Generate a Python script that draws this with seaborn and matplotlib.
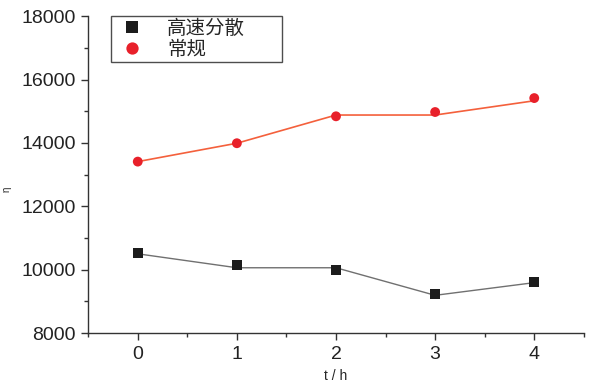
import numpy as np
import pandas as pd
import seaborn as sns
import matplotlib as mpl
from matplotlib import pyplot as plt

# data (markers and the connecting line differ slightly)
hours = [0, 1, 2, 3, 4]
fast_points = [10530, 10150, 9990, 9220, 9600]
fast_line = [10500, 10060, 10060, 9190, 9590]
normal_points = [13410, 13990, 14840, 14975, 15415]
normal_line = [13410, 13990, 14880, 14880, 15330]
series_names = ["高速分散", "常规"]

sns.set_theme(style="ticks")
plt.rcParams["font.family"] = ["Liberation Sans", "Noto Sans CJK SC", "DejaVu Sans"]

points = pd.DataFrame({
    "t": hours * 2,
    "eta": fast_points + normal_points,
    "series": [series_names[0]] * 5 + [series_names[1]] * 5,
})

fig = plt.figure(figsize=(6, 3.85), dpi=100)
ax = fig.add_axes([0.147, 0.135, 0.826, 0.823])

sns.lineplot(x=hours, y=fast_line, color="#707070", lw=1.0, ax=ax, legend=False)
sns.lineplot(x=hours, y=normal_line, color="#f4603c", lw=1.2, ax=ax, legend=False)
sns.scatterplot(
    data=points, x="t", y="eta", hue="series", style="series",
    palette={series_names[0]: "#1c1c1c", series_names[1]: "#e8202a"},
    markers={series_names[0]: "s", series_names[1]: "o"},
    s=50, linewidth=0, ax=ax, zorder=3,
)

ax.set_xlim(-0.5, 4.5)
ax.set_ylim(8000, 18000)
ax.set_xticks(hours)
ax.set_yticks(np.arange(8000, 18001, 2000))
ax.xaxis.set_minor_locator(mpl.ticker.MultipleLocator(0.5))
ax.yaxis.set_minor_locator(mpl.ticker.MultipleLocator(1000))
ax.tick_params(which="major", length=5, width=1, labelsize=14, color="#333333",
               labelcolor="#222222", direction="out", pad=4)
ax.tick_params(which="minor", length=3, width=1, color="#333333", direction="out")
for s in ["top", "right"]:
    ax.spines[s].set_visible(False)
for s in ["left", "bottom"]:
    ax.spines[s].set_color("#333333")
    ax.spines[s].set_linewidth(1.0)

ax.set_xlabel("t / h", fontsize=10)
ax.xaxis.set_label_coords(0.5, -0.115)
ax.set_ylabel("η", fontsize=7)
ax.yaxis.set_label_coords(-0.155, 0.455)

leg = ax.legend(
    loc="upper left", bbox_to_anchor=(0.045, 0.0, 0.347, 1.0), mode="expand",
    frameon=True, fancybox=False,
    prop={"family": ["Noto Sans CJK SC", "DejaVu Sans"], "size": 14},
    handletextpad=0.8, borderpad=0.1, labelspacing=0.0, markerscale=1.25,
    borderaxespad=0, handlelength=2.0,
)
leg.get_frame().set_edgecolor("#222222")
leg.get_frame().set_linewidth(1.0)

fig.savefig("out.png", dpi=100)
